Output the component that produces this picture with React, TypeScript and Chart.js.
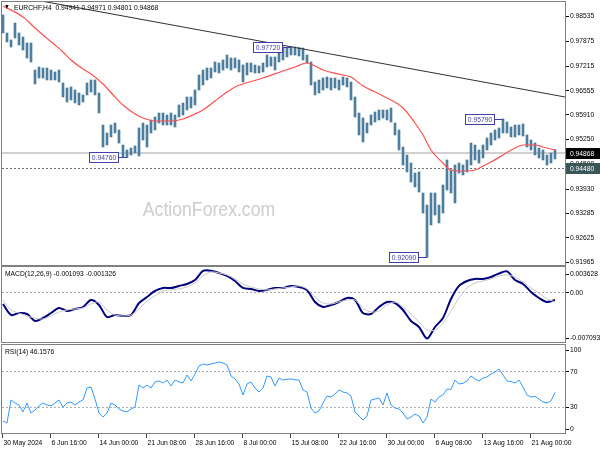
import React, { useEffect, useRef } from "react";
import { Chart, registerables } from "chart.js";
Chart.register(...registerables);

const FONT = "'Liberation Sans', Arial, sans-serif";
const SX = 0.84; // horizontal condensing of text, as in the reference

// ---------- data ----------
const symbolTitle = "EURCHF,H4";
const lastOHLC = ["0.94941", "0.94971", "0.94801", "0.94868"];

const highs = [
  0.98570, 0.98089, 0.97901, 0.98356, 0.98089, 0.97982, 0.97821, 0.97821, 0.97099, 0.97179,
  0.97153, 0.97153, 0.97099, 0.97046, 0.97099, 0.96752, 0.96618, 0.96645, 0.96564, 0.96484,
  0.96431, 0.96752, 0.96832, 0.96832, 0.96484, 0.95628, 0.95415, 0.95628, 0.95682, 0.95495,
  0.95094, 0.94960, 0.95013, 0.95067, 0.95548, 0.95682, 0.95628, 0.95762, 0.95842, 0.95949,
  0.95949, 0.95896, 0.95949, 0.95896, 0.96163, 0.96217, 0.96377, 0.96377, 0.96564, 0.96965,
  0.97099, 0.97153, 0.97153, 0.97313, 0.97286, 0.97367, 0.97500, 0.97420, 0.97420, 0.97367,
  0.97233, 0.97286, 0.97286, 0.97233, 0.97206, 0.97286, 0.97500, 0.97447, 0.97447, 0.97634,
  0.97714, 0.97700, 0.97720, 0.97714, 0.97700, 0.97687, 0.97500, 0.97313, 0.96778, 0.96832,
  0.96885, 0.96912, 0.96885, 0.96885, 0.96832, 0.96912, 0.96885, 0.96778, 0.96377, 0.95949,
  0.95816, 0.95682, 0.95896, 0.95976, 0.96030, 0.96030, 0.96030, 0.96083, 0.95682, 0.95495,
  0.95040, 0.94826, 0.94612, 0.94345, 0.94372, 0.93810, 0.93489, 0.93810, 0.93810, 0.93489,
  0.94024, 0.94693, 0.94425, 0.94559, 0.94612, 0.94559, 0.94693, 0.95147, 0.95094, 0.94960,
  0.95094, 0.95281, 0.95415, 0.95495, 0.95548, 0.95790, 0.95709, 0.95575, 0.95628, 0.95628,
  0.95655, 0.95361, 0.95227, 0.95147, 0.95013, 0.94960, 0.94826, 0.94880, 0.94971,
];
const lows = [
  0.98089, 0.97848, 0.97714, 0.97955, 0.97768, 0.97634, 0.97420, 0.97313, 0.96725, 0.96885,
  0.96885, 0.96832, 0.96832, 0.96832, 0.96778, 0.96377, 0.96244, 0.96297, 0.96217, 0.96163,
  0.96244, 0.96431, 0.96511, 0.96431, 0.95949, 0.95040, 0.95094, 0.95308, 0.95415, 0.95147,
  0.94773, 0.94760, 0.94826, 0.94880, 0.94800, 0.95227, 0.95040, 0.95415, 0.95495, 0.95682,
  0.95628, 0.95628, 0.95628, 0.95575, 0.95842, 0.95896, 0.96030, 0.96083, 0.96163, 0.96564,
  0.96698, 0.96832, 0.96885, 0.97046, 0.97019, 0.97099, 0.97153, 0.97099, 0.97153, 0.97046,
  0.96778, 0.96965, 0.97046, 0.97019, 0.97019, 0.97046, 0.97179, 0.97206, 0.97099, 0.97313,
  0.97367, 0.97447, 0.97500, 0.97500, 0.97474, 0.97367, 0.97286, 0.96698, 0.96431, 0.96484,
  0.96564, 0.96618, 0.96564, 0.96618, 0.96564, 0.96698, 0.96645, 0.96297, 0.95842, 0.95361,
  0.95174, 0.95415, 0.95628, 0.95709, 0.95762, 0.95816, 0.95762, 0.95709, 0.95361, 0.94960,
  0.94559, 0.94372, 0.94104, 0.93971, 0.93837, 0.93275, 0.92090, 0.92954, 0.93222, 0.93008,
  0.93275, 0.93890, 0.93810, 0.93543, 0.94345, 0.94291, 0.94372, 0.94559, 0.94693, 0.94612,
  0.94746, 0.94960, 0.95094, 0.95227, 0.95281, 0.95415, 0.95415, 0.95308, 0.95308, 0.95361,
  0.95334, 0.95040, 0.94960, 0.94826, 0.94746, 0.94693, 0.94559, 0.94612, 0.94720,
];

const maIdx = [
  0, 5, 8, 10, 13, 15, 17, 20, 22, 25, 28, 30, 33, 35, 38, 42, 45, 48, 50, 53,
  55, 58, 60, 65, 70, 73, 76, 78, 80, 85, 87, 90, 93, 95, 100, 103, 105, 107, 110, 112,
  115, 118, 120, 122, 125, 128, 130, 133, 135, 138,
];
const maVal = [
  0.98811, 0.98516, 0.98222, 0.98035, 0.97768, 0.97581, 0.97367, 0.97126, 0.96992, 0.96725,
  0.96377, 0.96163, 0.95923, 0.95816, 0.95735, 0.95735, 0.95789, 0.95923, 0.96030, 0.96270,
  0.96431, 0.96645, 0.96725, 0.96885, 0.97072, 0.97179, 0.97286, 0.97206, 0.97099, 0.96965,
  0.96912, 0.96671, 0.96511, 0.96404, 0.96083, 0.95682, 0.95361, 0.94960, 0.94612, 0.94425,
  0.94398, 0.94425, 0.94532, 0.94639, 0.94826, 0.95013, 0.95094, 0.95094, 0.95040, 0.94960,
];

const trendIdx = [-0.25, 140.5];
const trendVal = [0.99136, 0.96377];

const priceTicks = [0.98535, 0.97875, 0.97215, 0.96555, 0.95910, 0.95250, 0.94590, 0.93930, 0.93285, 0.92625, 0.91965];
const priceMin = 0.91885;
const priceMax = 0.98917;
const bidPrice = 0.94868;
const levelPrice = 0.94480;
const noteBars = [31, 72, 106, 125];
const notePrices = [0.94760, 0.97720, 0.92090, 0.95790];

const macdStep = 2;
const macdMain = [
  -0.00166, -0.00323, -0.00295, -0.00309, -0.00409, -0.00366, -0.00295, -0.00223, -0.00266, -0.00237,
  -0.00209, -0.00109, -0.00180, -0.00352, -0.00323, -0.00337, -0.00323, -0.00152, -0.00066, 0.00020,
  0.00063, 0.00063, 0.00092, 0.00120, 0.00177, 0.00306, 0.00310, 0.00277, 0.00235, 0.00163,
  0.00063, 0.00049, 0.00020, 0.00034, 0.00063, 0.00063, 0.00092, 0.00077, 0.00034, -0.00137,
  -0.00209, -0.00180, -0.00137, -0.00080, -0.00109, -0.00295, -0.00309, -0.00209, -0.00137, -0.00152,
  -0.00252, -0.00409, -0.00495, -0.00660, -0.00495, -0.00366, -0.00094, 0.00092, 0.00163, 0.00192,
  0.00192, 0.00220, 0.00270, 0.00300, 0.00177, 0.00120, 0.00006, -0.00080, -0.00137, -0.00109,
];
const macdSignal = [
  -0.00109, -0.00252, -0.00295, -0.00337, -0.00366, -0.00380, -0.00337, -0.00280, -0.00252, -0.00237,
  -0.00223, -0.00166, -0.00137, -0.00252, -0.00323, -0.00337, -0.00323, -0.00237, -0.00123, -0.00051,
  0.00020, 0.00034, 0.00049, 0.00077, 0.00134, 0.00235, 0.00292, 0.00277, 0.00249, 0.00192,
  0.00120, 0.00077, 0.00049, 0.00034, 0.00049, 0.00063, 0.00077, 0.00092, 0.00049, -0.00066,
  -0.00152, -0.00166, -0.00137, -0.00109, -0.00109, -0.00223, -0.00280, -0.00266, -0.00180, -0.00137,
  -0.00209, -0.00309, -0.00423, -0.00538, -0.00538, -0.00438, -0.00266, -0.00080, 0.00063, 0.00134,
  0.00163, 0.00192, 0.00235, 0.00249, 0.00220, 0.00149, 0.00063, -0.00009, -0.00094, -0.00133,
];
const macdMax = 0.003628;
const macdMin = -0.007093;
const macdTickLabels = ["0.003628", "0.00", "-0.007093"];
const macdTitle = "MACD(12,26,9) -0.001093 -0.001326";

const rsiVals = [
  13.6, 11.4, 37.5, 34.1, 31.8, 23.9, 34.1, 22.7, 26.1, 30.7,
  34.1, 31.8, 30.7, 34.1, 37.5, 29.5, 34.1, 35.2, 31.8, 35.2,
  37.5, 51.1, 52.3, 38.6, 22.7, 18.2, 22.7, 34.1, 31.8, 27.3,
  25.0, 23.9, 27.3, 29.5, 54.5, 51.1, 54.5, 51.1, 58.0, 59.1,
  56.8, 60.2, 53.4, 60.2, 58.0, 56.8, 65.9, 59.1, 67.0, 76.1,
  78.4, 77.3, 78.4, 79.5, 80.7, 79.5, 77.3, 64.8, 61.4, 55.7,
  43.2, 55.7, 58.0, 51.1, 46.6, 51.1, 64.8, 63.6, 53.4, 62.5,
  60.2, 61.0, 61.4, 60.5, 60.2, 48.9, 46.6, 28.4, 22.7, 25.0,
  34.1, 42.0, 40.9, 44.3, 48.9, 46.6, 45.5, 42.0, 23.9, 19.3,
  14.8, 19.3, 37.5, 38.6, 39.8, 31.8, 45.5, 31.8, 28.4, 27.3,
  22.7, 15.9, 18.2, 21.6, 19.3, 11.4, 18.2, 38.6, 35.2, 40.9,
  43.2, 50.0, 49.5, 60.2, 55.7, 56.5, 59.1, 64.8, 61.4, 59.1,
  62.5, 63.6, 67.0, 69.3, 72.7, 65.9, 59.1, 58.5, 56.8, 60.2,
  52.3, 43.2, 40.9, 41.5, 38.6, 35.2, 34.1, 36.4, 46.16,
];
const rsiTitle = "RSI(14) 46.1576";
const rsiLevels = [70, 30];
const rsiTicks = [100, 70, 30, 0];

const xTickBars = [0, 12, 24, 36, 48, 60, 72, 84, 96, 108, 120, 132];
const xTickLabels = [
  "30 May 2024", "6 Jun 16:00", "14 Jun 00:00", "21 Jun 08:00", "28 Jun 16:00", "8 Jul 00:00",
  "15 Jul 08:00", "22 Jul 16:00", "30 Jul 00:00", "6 Aug 08:00", "13 Aug 16:00", "21 Aug 00:00",
];

const X_MIN = -0.25;
const X_MAX = 140.5;

// ---------- helpers ----------
const AXIS_W = 35;
const FRAME = "#808080";
const FS = 8;

function txt(
  ctx: CanvasRenderingContext2D,
  text: string,
  x: number,
  y: number,
  color = "#000",
  align: CanvasTextAlign = "left",
  size = FS
) {
  ctx.save();
  ctx.font = `${size}px ${FONT}`;
  ctx.fillStyle = color;
  ctx.textAlign = align;
  ctx.textBaseline = "middle";
  ctx.translate(x, y);
  ctx.scale(SX, 1);
  ctx.fillText(text, 0, 0);
  ctx.restore();
}

function txtWidth(ctx: CanvasRenderingContext2D, text: string, size = FS) {
  ctx.save();
  ctx.font = `${size}px ${FONT}`;
  const w = ctx.measureText(text).width * SX;
  ctx.restore();
  return w;
}

function rightAxis(min: number, max: number) {
  return {
    position: "right" as const,
    min,
    max,
    grid: { display: false },
    border: { display: false },
    ticks: { display: false },
    afterFit: (s: any) => {
      s.width = AXIS_W;
    },
  };
}

function frame(ctx: CanvasRenderingContext2D, a: any) {
  ctx.save();
  ctx.strokeStyle = FRAME;
  ctx.lineWidth = 1;
  ctx.strokeRect(a.left - 0.5, a.top - 0.5, a.right - a.left + 1, a.bottom - a.top + 1);
  ctx.restore();
}

function axisLabel(ctx: CanvasRenderingContext2D, a: any, y: number, text: string) {
  ctx.save();
  ctx.strokeStyle = "#000";
  ctx.lineWidth = 1;
  ctx.beginPath();
  ctx.moveTo(a.right + 1, Math.round(y) + 0.5);
  ctx.lineTo(a.right + 4, Math.round(y) + 0.5);
  ctx.stroke();
  ctx.restore();
  txt(ctx, text, a.right + 5, y);
}

function hLine(ctx: CanvasRenderingContext2D, a: any, y: number, color: string, width: number, dash: number[]) {
  ctx.save();
  ctx.strokeStyle = color;
  ctx.lineWidth = width;
  ctx.setLineDash(dash);
  ctx.beginPath();
  const yy = width % 2 === 1 ? Math.round(y) + 0.5 : Math.round(y);
  ctx.moveTo(a.left, yy);
  ctx.lineTo(a.right, yy);
  ctx.stroke();
  ctx.restore();
}

const mainPlugin = {
  id: "mainDeco",
  beforeDatasetsDraw(chart: any) {
    const { ctx, chartArea: a, scales } = chart;
    txt(ctx, "ActionForex.com", 209, 210, "#cccccc", "center", 21);
    hLine(ctx, a, scales.y.getPixelForValue(bidPrice), "#d0d0d0", 2, []);
    hLine(ctx, a, scales.y.getPixelForValue(levelPrice), "#707070", 1, [2, 2]);
  },
  afterDatasetsDraw(chart: any) {
    const { ctx, chartArea: a, scales } = chart;
    frame(ctx, a);
    priceTicks.forEach((v) => axisLabel(ctx, a, scales.y.getPixelForValue(v), v.toFixed(5)));
    const tag = (price: number, bg: string) => {
      const y = scales.y.getPixelForValue(price);
      ctx.save();
      ctx.fillStyle = bg;
      ctx.fillRect(a.right + 1, Math.round(y) - 5, 600 - a.right - 1, 11);
      ctx.restore();
      txt(ctx, price.toFixed(5), a.right + 5, y + 0.5, "#ffffff");
    };
    tag(levelPrice, "#3a5656");
    tag(bidPrice, "#000000");
    noteBars.forEach((bar, i) => {
      const price = notePrices[i];
      const bx = scales.x.getPixelForValue(bar);
      const py = Math.round(scales.y.getPixelForValue(price));
      const text = price.toFixed(5);
      const w = Math.ceil(txtWidth(ctx, text)) + 5;
      const right = Math.round(bx) - 8;
      ctx.save();
      ctx.strokeStyle = "#4040a8";
      ctx.lineWidth = 1;
      ctx.beginPath();
      ctx.moveTo(right, py + 0.5);
      ctx.lineTo(bx, py + 0.5);
      ctx.stroke();
      ctx.fillStyle = "#ffffff";
      ctx.fillRect(right - w, py - 5, w, 10);
      ctx.strokeRect(right - w + 0.5, py - 4.5, w - 1, 10);
      ctx.restore();
      txt(ctx, text, right - w / 2, py + 0.5, "#4040a0", "center");
    });
    txt(ctx, "\u25BC", 4, 7, "#000", "left", 7);
    txt(ctx, `${symbolTitle}  ${lastOHLC.join(" ")}`, 14, 7.5);
  },
};

const macdPlugin = {
  id: "macdDeco",
  beforeDatasetsDraw(chart: any) {
    const { ctx, chartArea: a, scales } = chart;
    hLine(ctx, a, scales.y.getPixelForValue(0), "#a8a8a8", 1, [2, 2]);
  },
  afterDatasetsDraw(chart: any) {
    const { ctx, chartArea: a, scales } = chart;
    frame(ctx, a);
    [macdMax, 0, macdMin].forEach((v, i) => {
      let y = scales.y.getPixelForValue(v);
      y = Math.min(Math.max(y, a.top + 7), a.bottom - 4);
      axisLabel(ctx, a, y, macdTickLabels[i]);
    });
    txt(ctx, macdTitle, 5, a.top + 6.5);
  },
};

const rsiPlugin = {
  id: "rsiDeco",
  beforeDatasetsDraw(chart: any) {
    const { ctx, chartArea: a, scales } = chart;
    rsiLevels.forEach((v) => hLine(ctx, a, scales.y.getPixelForValue(v), "#b0b0b0", 1, [2, 2]));
  },
  afterDatasetsDraw(chart: any) {
    const { ctx, chartArea: a, scales } = chart;
    frame(ctx, a);
    rsiTicks.forEach((v) => {
      let y = scales.y.getPixelForValue(v);
      y = Math.min(Math.max(y, a.top + 5), a.bottom - 4);
      axisLabel(ctx, a, y, String(v));
    });
    txt(ctx, rsiTitle, 5, a.top + 7);
    xTickBars.forEach((bar, i) => {
      const x = Math.round(scales.x.getPixelForValue(bar)) - 0.5;
      ctx.save();
      ctx.strokeStyle = "#404040";
      ctx.lineWidth = 1;
      ctx.beginPath();
      ctx.moveTo(x, a.bottom + 1);
      ctx.lineTo(x, a.bottom + 5);
      ctx.stroke();
      ctx.restore();
      txt(ctx, xTickLabels[i], x + 1, a.bottom + 9.5);
    });
  },
};

const hiddenX = { type: "linear" as const, min: X_MIN, max: X_MAX, offset: false, bounds: "data", display: false, grid: { offset: false } };
const common = {
  responsive: false,
  animation: false as const,
  events: [] as any[],
  plugins: { legend: { display: false }, tooltip: { enabled: false } },
};

export default function App() {
  const mainRef = useRef<HTMLCanvasElement>(null);
  const macdRef = useRef<HTMLCanvasElement>(null);
  const rsiRef = useRef<HTMLCanvasElement>(null);

  useEffect(() => {
    const charts: Chart[] = [];

    charts.push(
      new Chart(mainRef.current as HTMLCanvasElement, {
        type: "line",
        data: {
          datasets: [
            {
              type: "bar",
              data: highs.map((h, i) => ({ x: i, y: [lows[i], h] })) as any,
              backgroundColor: "#4e7e9e",
              borderWidth: 0,
              barThickness: 2,
              grouped: false,
              order: 2,
            } as any,
            {
              type: "line",
              data: maIdx.map((k, i) => ({ x: k, y: maVal[i] })),
              borderColor: "#ff5050",
              borderWidth: 1.2,
              pointRadius: 0,
              cubicInterpolationMode: "monotone",
              order: 1,
            } as any,
            {
              type: "line",
              data: trendIdx.map((k, i) => ({ x: k, y: trendVal[i] })),
              borderColor: "#303030",
              borderWidth: 1,
              pointRadius: 0,
              order: 0,
            } as any,
          ],
        },
        options: {
          ...common,
          layout: { padding: { left: 2, top: 2, right: 0, bottom: 1 } },
          scales: { x: hiddenX, y: rightAxis(priceMin, priceMax) } as any,
        } as any,
        plugins: [mainPlugin],
      })
    );

    charts.push(
      new Chart(macdRef.current as HTMLCanvasElement, {
        type: "line",
        data: {
          datasets: [
            {
              data: macdSignal.map((v, i) => ({ x: i * macdStep, y: v })),
              borderColor: "#c8c8c8",
              borderWidth: 1,
              pointRadius: 0,
              tension: 0.3,
            },
            {
              data: macdMain.map((v, i) => ({ x: i * macdStep, y: v })),
              borderColor: "#00007f",
              borderWidth: 2,
              pointRadius: 0,
              tension: 0.3,
            },
          ],
        },
        options: {
          ...common,
          layout: { padding: { left: 2, top: 1, right: 0, bottom: 2 } },
          scales: { x: hiddenX, y: rightAxis(macdMin, macdMax) } as any,
        } as any,
        plugins: [macdPlugin],
      })
    );

    charts.push(
      new Chart(rsiRef.current as HTMLCanvasElement, {
        type: "line",
        data: {
          datasets: [
            {
              data: rsiVals.map((v, i) => ({ x: i, y: v })),
              borderColor: "#3399ff",
              borderWidth: 1,
              pointRadius: 0,
            },
          ],
        },
        options: {
          ...common,
          layout: { padding: { left: 2, top: 1, right: 0, bottom: 17 } },
          scales: { x: hiddenX, y: rightAxis(0, 100) } as any,
        } as any,
        plugins: [rsiPlugin],
      })
    );

    return () => charts.forEach((c) => c.destroy());
  }, []);

  return (
    <div style={{ position: "absolute", left: 0, top: 0, width: 600, height: 450, background: "#fff" }}>
      <canvas ref={mainRef} width={600} height={266} style={{ position: "absolute", left: 0, top: 0, display: "block" }} />
      <canvas ref={macdRef} width={600} height={78} style={{ position: "absolute", left: 0, top: 266, display: "block" }} />
      <canvas ref={rsiRef} width={600} height={106} style={{ position: "absolute", left: 0, top: 344, display: "block" }} />
    </div>
  );
}
